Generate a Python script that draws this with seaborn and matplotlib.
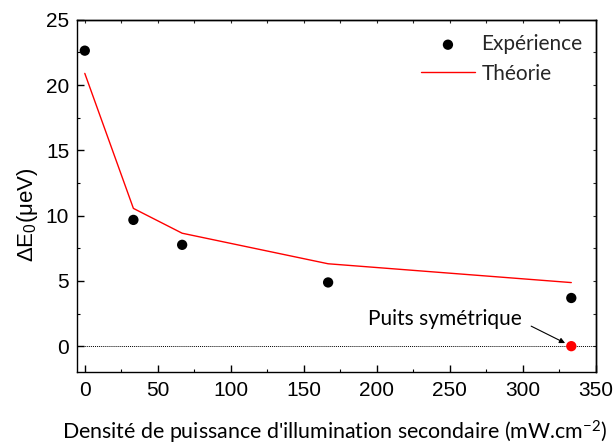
import numpy as np
import pandas as pd
import matplotlib
matplotlib.use("Agg")
import matplotlib.pyplot as plt
from matplotlib.ticker import MultipleLocator
import seaborn as sns

# Illumination power density (mW/cm^2)
power = [0, 33.3, 66.7, 166.7, 333.3]
# Measured splitting (ueV)
experience = [22.63, 9.67, 7.76, 4.88, 3.69]
# Computed splitting (ueV)
theorie = [20.89, 10.55, 8.65, 6.31, 4.87]
# Symmetric well point
sym_power = [333.3]
sym_value = [0.0]

sns.set_style("ticks")
plt.rcParams["font.family"] = ["Lato", "DejaVu Sans"]
plt.rcParams["mathtext.default"] = "regular"

df_exp = pd.DataFrame({"P": power, "dE": experience})
df_th = pd.DataFrame({"P": power, "dE": theorie})
df_sym = pd.DataFrame({"P": sym_power, "dE": sym_value})

fig = plt.figure(figsize=(6.16, 4.45), dpi=100)
ax = fig.add_axes([0.1258, 0.1634, 0.8412, 0.7923])

ax.axhline(0, color="black", lw=0.7, ls=(0, (1, 1)), zorder=1)
sns.lineplot(data=df_th, x="P", y="dE", ax=ax, color="#ff0000", lw=1.0,
             label="Théorie", zorder=2)
sns.scatterplot(data=df_exp, x="P", y="dE", ax=ax, color="black", s=55,
                edgecolor="none", label="Expérience", zorder=3)
sns.scatterplot(data=df_sym, x="P", y="dE", ax=ax, color="#ff0000", s=55,
                edgecolor="none", legend=False, zorder=3)

ax.set_xlim(-5, 350)
ax.set_ylim(-2, 25)

tick_font = {"family": ["Liberation Sans", "DejaVu Sans"], "size": 15}
ax.xaxis.set_major_locator(MultipleLocator(50))
ax.xaxis.set_minor_locator(MultipleLocator(25))
ax.yaxis.set_major_locator(MultipleLocator(5))
ax.yaxis.set_minor_locator(MultipleLocator(2.5))
ax.tick_params(which="major", direction="in", length=5, width=1, pad=6,
               color="black")
ax.tick_params(which="minor", direction="in", length=2.5, width=0.8,
               color="black")
for lab in ax.get_xticklabels() + ax.get_yticklabels():
    lab.set_fontfamily(tick_font["family"])
    lab.set_fontsize(tick_font["size"])
    lab.set_color("black")

# short inward ticks along the top and right edges
top = ax.secondary_xaxis("top")
top.xaxis.set_major_locator(MultipleLocator(25))
top.tick_params(direction="in", length=2.5, width=0.8, labeltop=False)
right = ax.secondary_yaxis("right")
right.yaxis.set_major_locator(MultipleLocator(2.5))
right.tick_params(direction="in", length=2.5, width=0.8, labelright=False)

for sp in list(ax.spines.values()) + [top.spines["top"], right.spines["right"]]:
    sp.set_color("black")
    sp.set_linewidth(1.0)

ax.set_xlabel("Densité de puissance d'illumination secondaire (mW.cm$^{-2}$)",
              fontsize=15.4, color="black", labelpad=13)
ax.xaxis.set_label_coords(0.497, -0.133)
ax.xaxis.label.set_va("top")
ax.set_ylabel("")
ax.text(-0.072, 0.446, "ΔE$_0$(μeV)", transform=ax.transAxes, rotation=90,
        ha="right", va="center", fontsize=16, color="black",
        family=["Liberation Sans", "DejaVu Sans"])

ax.annotate("Puits symétrique", xy=(333.3, 0), xytext=(299.3, 2.05),
            ha="right", va="center", fontsize=15, color="black",
            arrowprops=dict(arrowstyle="-|>", color="black", lw=0.8,
                            mutation_scale=8, shrinkA=5, shrinkB=5,
                            relpos=(1.0, 0.4)))

h, l = ax.get_legend_handles_labels()
order = [l.index("Expérience"), l.index("Théorie")]
ax.legend([h[i] for i in order], [l[i] for i in order], loc="upper right",
          bbox_to_anchor=(0.975, 0.959), frameon=False, fontsize=15,
          handlelength=2.55, handletextpad=0.34, labelspacing=0.45,
          borderaxespad=0, borderpad=0)

fig.savefig("out.png", dpi=100)
